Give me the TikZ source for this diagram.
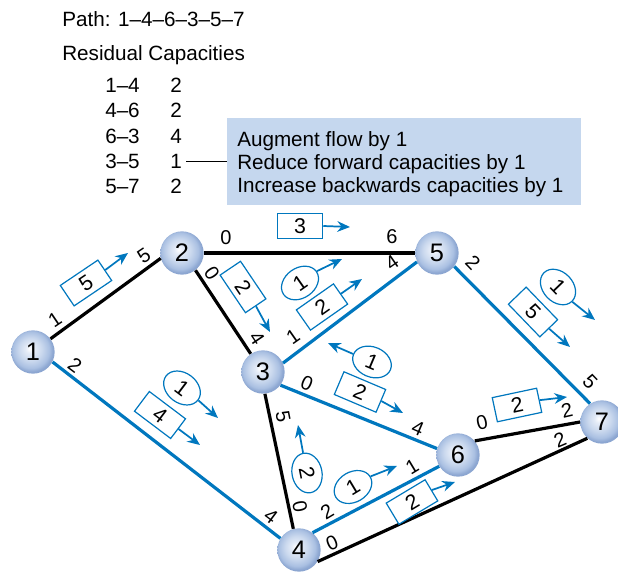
\documentclass[tikz,border=0pt]{standalone}
\usepackage{fontspec}
\setmainfont{Liberation Sans}
\usetikzlibrary{arrows.meta,shapes.geometric}
\definecolor{fblue}{RGB}{0,119,190}
\definecolor{cbox}{RGB}{197,215,238}
\definecolor{nb1}{RGB}{228,235,247}
\definecolor{nb2}{RGB}{203,217,238}
\definecolor{nb3}{RGB}{170,192,226}
\definecolor{nb4}{RGB}{140,166,209}
\pgfdeclareradialshading{nodeball}{\pgfpoint{-4bp}{4bp}}{color(0bp)=(white); color(5bp)=(nb1); color(13bp)=(nb2); color(21bp)=(nb3); color(25bp)=(nb4); color(50bp)=(nb4)}
\begin{document}
\begin{tikzpicture}[x=0.75pt,y=-0.75pt,
  vtx/.style={circle, minimum size=32.5pt, inner sep=0pt, shading=nodeball, font=\fontsize{19}{22}\selectfont},
  blk/.style={line width=2.4pt, black},
  blu/.style={line width=2.4pt, fblue},
  elab/.style={inner sep=0pt, font=\fontsize{15}{18}\selectfont},
  fbox/.style={draw=fblue, line width=0.9pt, fill=white, minimum width=34pt, minimum height=18.5pt, inner sep=0pt, font=\fontsize{16}{18}\selectfont},
  fell/.style={ellipse, draw=fblue, line width=0.9pt, fill=white, minimum width=30pt, minimum height=22.5pt, inner sep=0pt, font=\fontsize{16}{18}\selectfont},
  farr/.style={fblue, line width=1.3pt, -{Stealth[length=9.5pt,width=8pt]}},
  txt/.style={anchor=base west, inner sep=0pt, font=\fontsize{15.5}{18}\selectfont}
]
\useasboundingbox (0,0) rectangle (618,573);

% header text
\node[txt] (path) at (62,27) {Path: 1–4–6–3–5–7};
\node[txt] (res) at (62,61) {Residual Capacities};
\node[txt] (r1a) at (105,93) {1–4};  \node[txt] (r1b) at (170,93) {2};
\node[txt] (r2a) at (105,118) {4–6}; \node[txt] (r2b) at (170,118) {2};
\node[txt] (r3a) at (105,144) {6–3}; \node[txt] (r3b) at (170,144) {4};
\node[txt] (r4a) at (105,169) {3–5}; \node[txt] (r4b) at (170,169) {1};
\node[txt] (r5a) at (105,194) {5–7}; \node[txt] (r5b) at (170,194) {2};

\node[fill=cbox, minimum width=265.5pt, minimum height=65.25pt, inner sep=0pt, anchor=north west] (callout) at (227,118) {};
\node[txt] (c1) at (237,147) {Augment flow by 1};
\node[txt] (c2) at (237,170) {Reduce forward capacities by 1};
\node[txt] (c3) at (237,193) {Increase backwards capacities by 1};
\draw[line width=0.75pt, shorten <=3pt] (r4b.east) -- (r4b.east -| callout.west);

% vertices
\node[vtx] (n1) at (33,352) {1};
\node[vtx] (n2) at (182,253) {2};
\node[vtx] (n3) at (263,372) {3};
\node[vtx] (n4) at (299,550) {4};
\node[vtx] (n5) at (437,253) {5};
\node[vtx] (n6) at (458,455) {6};
\node[vtx] (n7) at (602,422) {7};

% edges
\draw[blk] (n1.37) -- (n2.-166);
\draw[blk] (n2.east) -- (n5.west);
\draw[blk] (n2.-52) -- (n3.124);
\draw[blk] (n3.-85) -- (n4.105);
\draw[blk] (n4.-32) -- (n7.-132);
\draw[blk] (n6.40) -- (n7.180);
\draw[blu] (n1.-27) -- (n4.148);
\draw[blu] (n3.24) -- (n5.-156);
\draw[blu] (n5.-38) -- (n7.123);
\draw[blu] (n3.-37) -- (n6.163);
\draw[blu] (n4.52) -- (n6.-149);

% edge labels
\node[elab, rotate=34] (l12a) at (55,320) {1};
\node[elab, rotate=34] (l12b) at (144,256) {5};
\node[elab] (l25a) at (226,238) {0};
\node[elab] (l25b) at (392,237) {6};
\node[elab, rotate=-56] (l23a) at (212,273) {0};
\node[elab, rotate=-56] (l23b) at (257,338) {4};
\node[elab, rotate=35] (l35a) at (293,337) {1};
\node[elab, rotate=35] (l35b) at (392,263) {4};
\node[elab, rotate=-46] (l57a) at (473,263) {2};
\node[elab, rotate=-46] (l57b) at (590,382) {5};
\node[elab, rotate=-37] (l14a) at (75,365) {2};
\node[elab, rotate=-37] (l14b) at (271,516) {4};
\node[elab, rotate=-23] (l36a) at (307,383) {0};
\node[elab, rotate=-23] (l36b) at (418,428) {4};
\node[elab, rotate=-79] (l34a) at (283,417) {5};
\node[elab, rotate=-79] (l34b) at (300,507) {0};
\node[elab, rotate=31] (l46a) at (327,512) {2};
\node[elab, rotate=31] (l46b) at (412,467) {1};
\node[elab, rotate=23] (l47a) at (332,543) {0};
\node[elab, rotate=23] (l47b) at (560,440) {2};
\node[elab, rotate=13] (l67a) at (482,423) {0};
\node[elab, rotate=13] (l67b) at (567,410) {2};

% flow boxes
\node[fbox, rotate=34] (b12) at (86,283) {5};
\coordinate (a12) at (128,253);
\draw[farr] (b12.east) -- (a12);
\node[fbox] (b25) at (300,226) {3};
\coordinate (a25) at (350,227);
\draw[farr] (b25.east) -- (a25);
\node[fbox, rotate=-56] (b23) at (243,287) {2};
\coordinate (a23) at (270,332);
\draw[farr] (b23.east) -- (a23);
\node[fbox, rotate=35] (b35) at (322,307) {2};
\coordinate (a35) at (362,279);
\draw[farr] (b35.east) -- (a35);
\node[fbox, rotate=-46] (b57) at (533,312) {5};
\coordinate (a57) at (570,347);
\draw[farr] (b57.east) -- (a57);
\node[fbox, rotate=-37] (b14) at (160,415) {4};
\coordinate (a14) at (200,445);
\draw[farr] (b14.east) -- (a14);
\node[fbox, rotate=-23] (b36) at (360,392) {2};
\coordinate (a36) at (403,413);
\draw[farr] (b36.east) -- (a36);
\node[fbox, rotate=31] (b46) at (412,502) {2};
\coordinate (a46) at (455,482);
\draw[farr] (b46.east) -- (a46);
\node[fbox, rotate=12] (b67) at (517,405) {2};
\coordinate (a67) at (567,397);
\draw[farr] (b67.east) -- (a67);

% flow ellipses
\node[fell, rotate=35] (e35) at (300,283) {1};
\coordinate (ae35) at (342,259);
\draw[farr] (e35.east) -- (ae35);
\node[fell, rotate=-46] (e57) at (558,287) {1};
\coordinate (ae57) at (595,320);
\draw[farr] (e57.east) -- (ae57);
\node[fell, rotate=-23] (e36) at (372,362) {1};
\coordinate (ae36) at (328,343);
\draw[farr] (e36.west) -- (ae36);
\node[fell, rotate=-37] (e14) at (182,388) {1};
\coordinate (ae14) at (218,418);
\draw[farr] (e14.east) -- (ae14);
\node[fell, rotate=-79] (e34) at (307,473) {2};
\coordinate (ae34) at (298,425);
\draw[farr] (e34.west) -- (ae34);
\node[fell, rotate=31] (e46) at (353,487) {1};
\coordinate (ae46) at (397,466);
\draw[farr] (e46.east) -- (ae46);
\end{tikzpicture}
\end{document}
